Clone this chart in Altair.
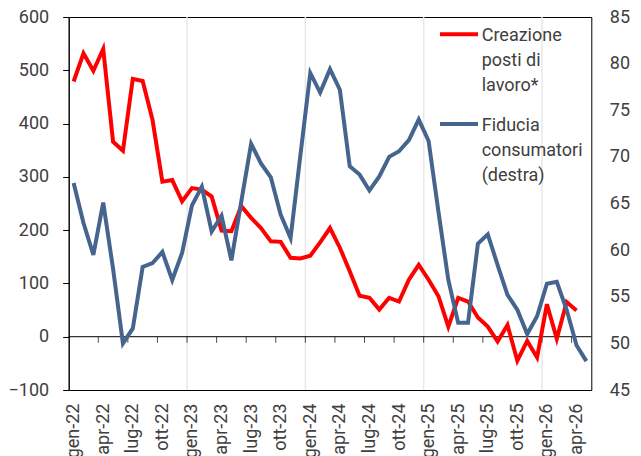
import json
import altair as alt
import pandas as pd

# ---- data -----------------------------------------------------------------
month_names = ["gen", "feb", "mar", "apr", "mag", "giu",
               "lug", "ago", "set", "ott", "nov", "dic"]
years = ["22", "23", "24", "25", "26"]
month_labels = [f"{m}-{y}" for y in years for m in month_names][:53]

# Creazione posti di lavoro* (left axis), gen-22 .. apr-26
jobs = [479, 532, 499, 540, 366, 349, 484, 480, 407, 291, 294, 254,
        279, 276, 263, 199, 198, 245, 223, 204, 179, 178, 148, 147,
        152, 177, 204, 167, 123, 77, 73, 51, 73, 66, 107, 135,
        107, 76, 19, 73, 66, 36, 19, -9, 22, -45, -8, -39,
        61, -4, 65, 49]

# Fiducia consumatori (right axis), gen-22 .. mag-26
confidence = [67.2, 62.9, 59.5, 65.1, 58.0, 50.0, 51.6, 58.2, 58.6, 59.8, 56.8, 59.7,
              64.8, 66.8, 62.0, 63.7, 58.9, 65.2, 71.4, 69.3, 67.8, 63.8, 61.3, 70.2,
              79.0, 76.9, 79.4, 77.2, 69.0, 68.1, 66.4, 67.9, 70.0, 70.6, 71.8, 74.0,
              71.7, 64.1, 56.8, 52.2, 52.2, 60.7, 61.7, 58.4, 55.2, 53.6, 51.0, 52.9,
              56.4, 56.6, 53.6, 49.8, 48.1]

left_ticks = [-100, 0, 100, 200, 300, 400, 500, 600]
right_ticks = [45, 50, 55, 60, 65, 70, 75, 80, 85]
x_label_idx = list(range(0, 53, 3))

series = ["Creazione posti di lavoro*", "Fiducia consumatori (destra)"]
colors = ["#ff0000", "#45648e"]

df_jobs = pd.DataFrame({"i": list(range(len(jobs))), "mese": month_labels[:len(jobs)], "v": jobs})
df_conf = pd.DataFrame({"i": list(range(len(confidence))), "mese": month_labels, "v": confidence})
grid_df = pd.DataFrame({"i": [i - 0.5 for i, l in enumerate(month_labels) if l.startswith("gen") and i > 0]})
tick_df = pd.DataFrame({"i": [i - 0.5 for i in range(3, 53, 3)]})

# ---- chart ----------------------------------------------------------------
FONT = "Roboto"
TXT = "#404040"
FS = 18

xscale = alt.Scale(domain=[-0.5, len(month_labels) - 0.5], nice=False, zero=False)
yleft = alt.Scale(domain=[-100, 600], nice=False, zero=False)
yright = alt.Scale(domain=[45, 85], nice=False, zero=False)

label_expr = json.dumps(month_labels) + "[datum.value]"

x_axis = alt.Axis(values=x_label_idx, labelExpr=label_expr, labelAngle=-90,
                  labelAlign="right", labelBaseline="middle",
                  ticks=False, domain=False, grid=False, labelPadding=13,
                  labelFontSize=FS, labelColor=TXT, labelFont=FONT,
                  labelFlush=False, labelOverlap=False)
yl_axis = alt.Axis(values=left_ticks, tickSize=6, tickColor="black",
                   domainColor="black", labelPadding=14, grid=False,
                   labelFontSize=FS, labelColor=TXT, labelFont=FONT)
yr_axis = alt.Axis(orient="right", values=right_ticks, ticks=False, tickSize=0,
                   domain=False, labelPadding=18, grid=False,
                   labelFontSize=FS, labelColor=TXT, labelFont=FONT)

X = lambda: alt.X("i:Q", scale=xscale, title=None, axis=x_axis)

grid = alt.Chart(grid_df).mark_rule(color="#e8e8e8", strokeWidth=1.5).encode(x=X())

zero_line = alt.Chart(alt.Data(values=[{}])).mark_rule(color="black", strokeWidth=1).encode(
    y=alt.Y(datum=0, scale=yleft, title=None, axis=yl_axis)
)

ticks = alt.Chart(tick_df).mark_tick(
    orient="vertical", size=6, thickness=1, color="black", yOffset=3
).encode(
    x=X(),
    y=alt.Y(datum=0, scale=yleft, title=None, axis=yl_axis),
)

red = alt.Chart(df_jobs).mark_line(strokeWidth=4, color=colors[0]).encode(
    x=X(),
    y=alt.Y("v:Q", scale=yleft, title=None, axis=yl_axis),
)

left = alt.layer(grid, zero_line, ticks, red)

blue = alt.Chart(df_conf).mark_line(strokeWidth=4, color=colors[1]).encode(
    x=X(),
    y=alt.Y("v:Q", scale=yright, title=None, axis=yr_axis),
)

one = alt.Data(values=[{}])
leg_rule1 = alt.Chart(one).mark_rule(color=colors[0], strokeWidth=4).encode(
    x=alt.value(371.3), x2=alt.value(409.3), y=alt.value(17.3))
leg_rule2 = alt.Chart(one).mark_rule(color=colors[1], strokeWidth=4).encode(
    x=alt.value(371.3), x2=alt.value(409.3), y=alt.value(107))
leg_txt1 = alt.Chart(one).mark_text(
    text="Creazione\nposti di\nlavoro*", lineBreak="\n", lineHeight=25,
    align="left", baseline="alphabetic", fontSize=FS, font=FONT, color=TXT
).encode(x=alt.value(413), y=alt.value(24))
leg_txt2 = alt.Chart(one).mark_text(
    text="Fiducia\nconsumatori\n(destra)", lineBreak="\n", lineHeight=25,
    align="left", baseline="alphabetic", fontSize=FS, font=FONT, color=TXT
).encode(x=alt.value(413), y=alt.value(113.5))

chart = alt.layer(
    left, blue, leg_rule1, leg_rule2, leg_txt1, leg_txt2
).resolve_scale(y="independent").properties(
    width=522.6, height=373,
    autosize=alt.AutoSizeParams(type="none"),
    padding={"left": 68.7, "top": 17, "right": 49.7, "bottom": 66},
).configure_view(stroke="black", strokeWidth=1)

chart.save("out.html", embed_options={"renderer": "svg", "actions": False})
